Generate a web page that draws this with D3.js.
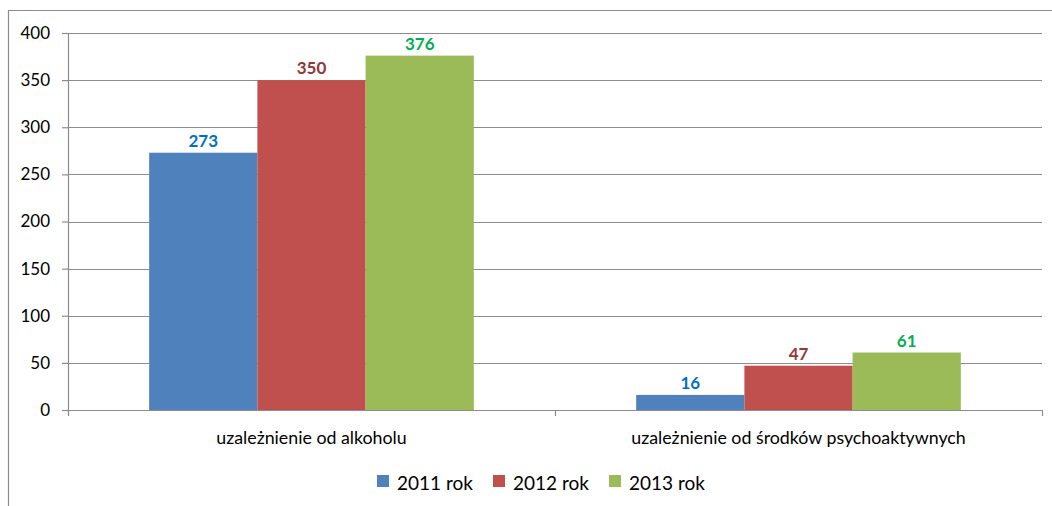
<!DOCTYPE html>
<html>
<head>
<meta charset="utf-8">
<script src="https://cdn.jsdelivr.net/npm/d3@7"></script>
<style>
  html, body { margin: 0; padding: 0; background: #fff; }
  svg { display: block; }
  text { font-family: Lato, "Open Sans", sans-serif; }
</style>
</head>
<body>
<svg id="chart" width="1052" height="506"></svg>
<script>
const categories = ["uzależnienie od alkoholu", "uzależnienie od środków psychoaktywnych"];
const seriesNames = ["2011 rok", "2012 rok", "2013 rok"];
const values2011 = [273, 16];
const values2012 = [350, 47];
const values2013 = [376, 61];
const yTicks = [0, 50, 100, 150, 200, 250, 300, 350, 400];

const seriesValues = [values2011, values2012, values2013];
const barColors = ["#4F81BD", "#C0504D", "#9BBB59"];
const labelColors = ["#0070C0", "#953735", "#00B050"];

const svg = d3.select("#chart");
const margin = {left: 68, top: 33};
const plotW = 1042 - margin.left;
const plotH = 410 - margin.top;

svg.append("path")
  .attr("d", "M8.5,506 L8.5,10.5 L1052,10.5")
  .attr("fill", "none").attr("stroke", "#8c8c8c").attr("stroke-width", 1.2);

const g = svg.append("g").attr("transform", `translate(${margin.left},${margin.top})`);

const x0 = d3.scaleBand().domain(categories).range([0, plotW]).paddingInner(0).paddingOuter(0);
const groupW = x0.bandwidth() * 3 / 4.5;
const x1 = d3.scaleBand().domain(seriesNames).range([0, groupW]).padding(0);
const y = d3.scaleLinear().domain([0, 400]).range([plotH, 0]);

g.append("g").selectAll("line").data(yTicks.filter(d => d > 0)).join("line")
  .attr("x1", 0).attr("x2", plotW)
  .attr("y1", d => Math.round(y(d)) + 0.5).attr("y2", d => Math.round(y(d)) + 0.5)
  .attr("stroke", "#8c8c8c").attr("stroke-width", 1.2);

const yAxis = g.append("g").call(d3.axisLeft(y).tickValues(yTicks).tickSize(6).tickPadding(12).tickFormat(d3.format("d")));
yAxis.select(".domain").attr("stroke", "#8c8c8c").attr("stroke-width", 1.2).attr("d", `M0.5,${plotH + 5}V0.5`);
yAxis.selectAll(".tick line").attr("stroke", "#8c8c8c").attr("stroke-width", 1.2);
yAxis.selectAll(".tick text").attr("fill", "#000").style("font-size", "17px").style("font-family", "Lato, sans-serif");

categories.forEach((cat, ci) => {
  const gx = x0(cat) + (x0.bandwidth() - groupW) / 2;
  seriesNames.forEach((s, si) => {
    const v = seriesValues[si][ci];
    g.append("rect")
      .attr("x", gx + x1(s))
      .attr("y", y(v))
      .attr("width", x1.bandwidth())
      .attr("height", y(0) - y(v))
      .attr("fill", barColors[si]);
    g.append("text")
      .attr("x", gx + x1(s) + x1.bandwidth() / 2)
      .attr("y", y(v) - 6)
      .attr("text-anchor", "middle")
      .attr("fill", labelColors[si])
      .style("font-size", "17px").style("font-weight", "bold")
      .text(v);
  });
});

const xAxisG = g.append("g").attr("transform", `translate(0,${plotH})`);
xAxisG.append("line").attr("x1", 0).attr("x2", plotW).attr("y1", 0.5).attr("y2", 0.5)
  .attr("stroke", "#8c8c8c").attr("stroke-width", 1.2);
const tickPos = [0, ...categories.map(c => x0(c) + x0.bandwidth())];
xAxisG.selectAll("line.tk").data(tickPos).join("line").attr("class", "tk")
  .attr("x1", d => Math.round(d) + 0.5).attr("x2", d => Math.round(d) + 0.5)
  .attr("y1", 0).attr("y2", 6)
  .attr("stroke", "#8c8c8c").attr("stroke-width", 1.2);
xAxisG.selectAll("text.cat").data(categories).join("text").attr("class", "cat")
  .attr("x", d => x0(d) + x0.bandwidth() / 2)
  .attr("y", 34)
  .attr("text-anchor", "middle")
  .attr("fill", "#000")
  .style("font-size", "17.8px")
  .text(d => d);

const legendX = [377, 493, 609];
const legend = svg.append("g");
seriesNames.forEach((s, i) => {
  legend.append("rect").attr("x", legendX[i]).attr("y", 475).attr("width", 12).attr("height", 12).attr("fill", barColors[i]);
  legend.append("text").attr("x", legendX[i] + 20).attr("y", 490)
    .attr("fill", "#000").style("font-size", "19px").text(s);
});
</script>
</body>
</html>
